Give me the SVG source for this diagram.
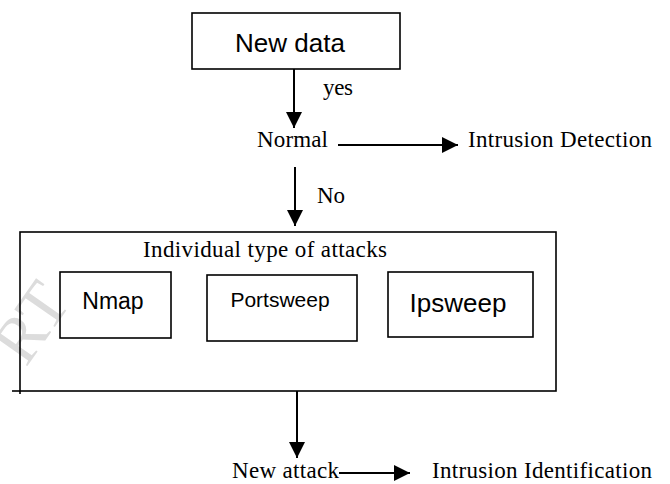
<svg xmlns="http://www.w3.org/2000/svg" width="670" height="484" viewBox="0 0 670 484">
<style>
.box{fill:none;stroke:#000;stroke-width:1.6}
.ln{fill:none;stroke:#000;stroke-width:2}
.sans{font-family:"Liberation Sans","Open Sans",sans-serif;fill:#000}
.serif{font-family:"Liberation Serif","Times New Roman",serif;fill:#000;font-size:23px}
.wm{font-family:"Liberation Serif",serif;fill:#dcdcdc}
</style>
<defs>
<marker id="ah" markerUnits="userSpaceOnUse" markerWidth="18" markerHeight="18" refX="16" refY="8" orient="auto">
<path d="M0,0 L16,8 L0,16 Z" fill="#000"/>
</marker>
</defs>
<rect width="670" height="484" fill="#fff"/>
<text class="wm" font-size="66" transform="translate(26,368) rotate(-55)">RT</text>
<g id="new-data">
<rect class="box" x="192" y="13" width="208" height="56"/>
<text class="sans" x="290" y="52" font-size="26" text-anchor="middle">New data</text>
</g>
<g id="normal">
<text class="serif" x="257" y="147" textLength="71">Normal</text>
</g>
<g id="intrusion-detection">
<text class="serif" x="468" y="147" textLength="184">Intrusion Detection</text>
</g>
<g id="attacks-group">
<rect class="box" x="20" y="232" width="536" height="159"/>
<line class="box" x1="12" y1="391" x2="20" y2="391"/>
<line class="box" x1="20" y1="391" x2="20" y2="394"/>
<text class="serif" x="143" y="257" textLength="244">Individual type of attacks</text>
</g>
<g id="nmap">
<rect class="box" x="60" y="272" width="111" height="66"/>
<text class="sans" x="113" y="309" font-size="23" text-anchor="middle">Nmap</text>
</g>
<g id="portsweep">
<rect class="box" x="207" y="275" width="150" height="66"/>
<text class="sans" x="280" y="307" font-size="21" text-anchor="middle">Portsweep</text>
</g>
<g id="ipsweep">
<rect class="box" x="388" y="272" width="145" height="65"/>
<text class="sans" x="458" y="312" font-size="26" text-anchor="middle">Ipsweep</text>
</g>
<g id="new-attack">
<text class="serif" x="232" y="478" textLength="107">New attack</text>
</g>
<g id="intrusion-identification">
<text class="serif" x="432" y="478" textLength="220">Intrusion Identification</text>
</g>
<g id="connectors">
<line class="ln" x1="294" y1="69" x2="294" y2="128" marker-end="url(#ah)"/>
<text class="serif" x="323" y="95" textLength="30">yes</text>
<line class="ln" x1="338" y1="145" x2="458" y2="145" marker-end="url(#ah)"/>
<line class="ln" x1="295" y1="167" x2="295" y2="226" marker-end="url(#ah)"/>
<text class="serif" x="317" y="203">No</text>
<line class="ln" x1="297" y1="391" x2="297" y2="458" marker-end="url(#ah)"/>
<line class="ln" x1="339" y1="473" x2="410" y2="473" marker-end="url(#ah)"/>
</g>
</svg>
